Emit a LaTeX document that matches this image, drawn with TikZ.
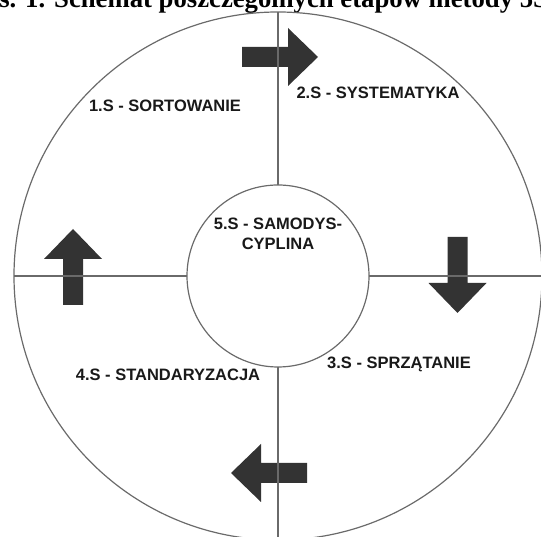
\documentclass[tikz,border=0pt]{standalone}
\usepackage{fontspec}
\setmainfont{Liberation Serif}
\newfontfamily\labelfont{Liberation Sans}
\usetikzlibrary{positioning}
\definecolor{linegray}{HTML}{6A6A6A}
\definecolor{arrowgray}{HTML}{333333}
\tikzset{
  ring/.style = {circle, draw=linegray, line width=1.2pt, inner sep=0pt, outer sep=0pt},
  spoke/.style = {draw=linegray, line width=1.2pt},
  stage/.style = {font=\labelfont\bfseries\fontsize{16.5}{20}\selectfont, text=black!90,
    inner sep=0pt},
  pics/stagearrow/.style = {code={
    \fill[arrowgray] (0,-10) -- (46,-10) -- (46,-29) -- (76,0) -- (46,29) -- (46,10) -- (0,10) -- cycle;}},
}

\begin{document}
\begin{tikzpicture}[x=1pt,y=1pt]
\useasboundingbox (0,0) rectangle (541,537);
\node[font=\bfseries\fontsize{26.7}{30}\selectfont, anchor=base west, inner sep=0pt] (caption)
  at (-32.6,529) {Rys. 1. Schemat poszczególnych etapów metody 5S};
\node[ring, minimum size=528pt] (outer) at (278,261) {};
\node[ring, minimum size=182pt] (hub) at (278,261) {};
% arrows between the stages
\pic at (242,480) {stagearrow};
\pic[rotate=-90] at (457.5,300) {stagearrow};
\pic[rotate=180] at (307,64) {stagearrow};
\pic[rotate=90] at (73,232) {stagearrow};
\draw[spoke] (hub.north) -- (outer.north);
\draw[spoke] (hub.east) -- (outer.east);
\draw[spoke] (hub.south) -- (outer.south);
\draw[spoke] (hub.west) -- (outer.west);
\node[stage] (s_1) at (165,431) {1.S - SORTOWANIE};
\node[stage] (s_2) at (378,444) {2.S - SYSTEMATYKA};
\node[stage] (s_3) at (399,173) {3.S - SPRZĄTANIE};
\node[stage] (s_4) at (168,162) {4.S - STANDARYZACJA};
\node[stage, align=center] (s_5) at (278,303) {5.S - SAMODYS-\\CYPLINA};
\end{tikzpicture}
\end{document}
